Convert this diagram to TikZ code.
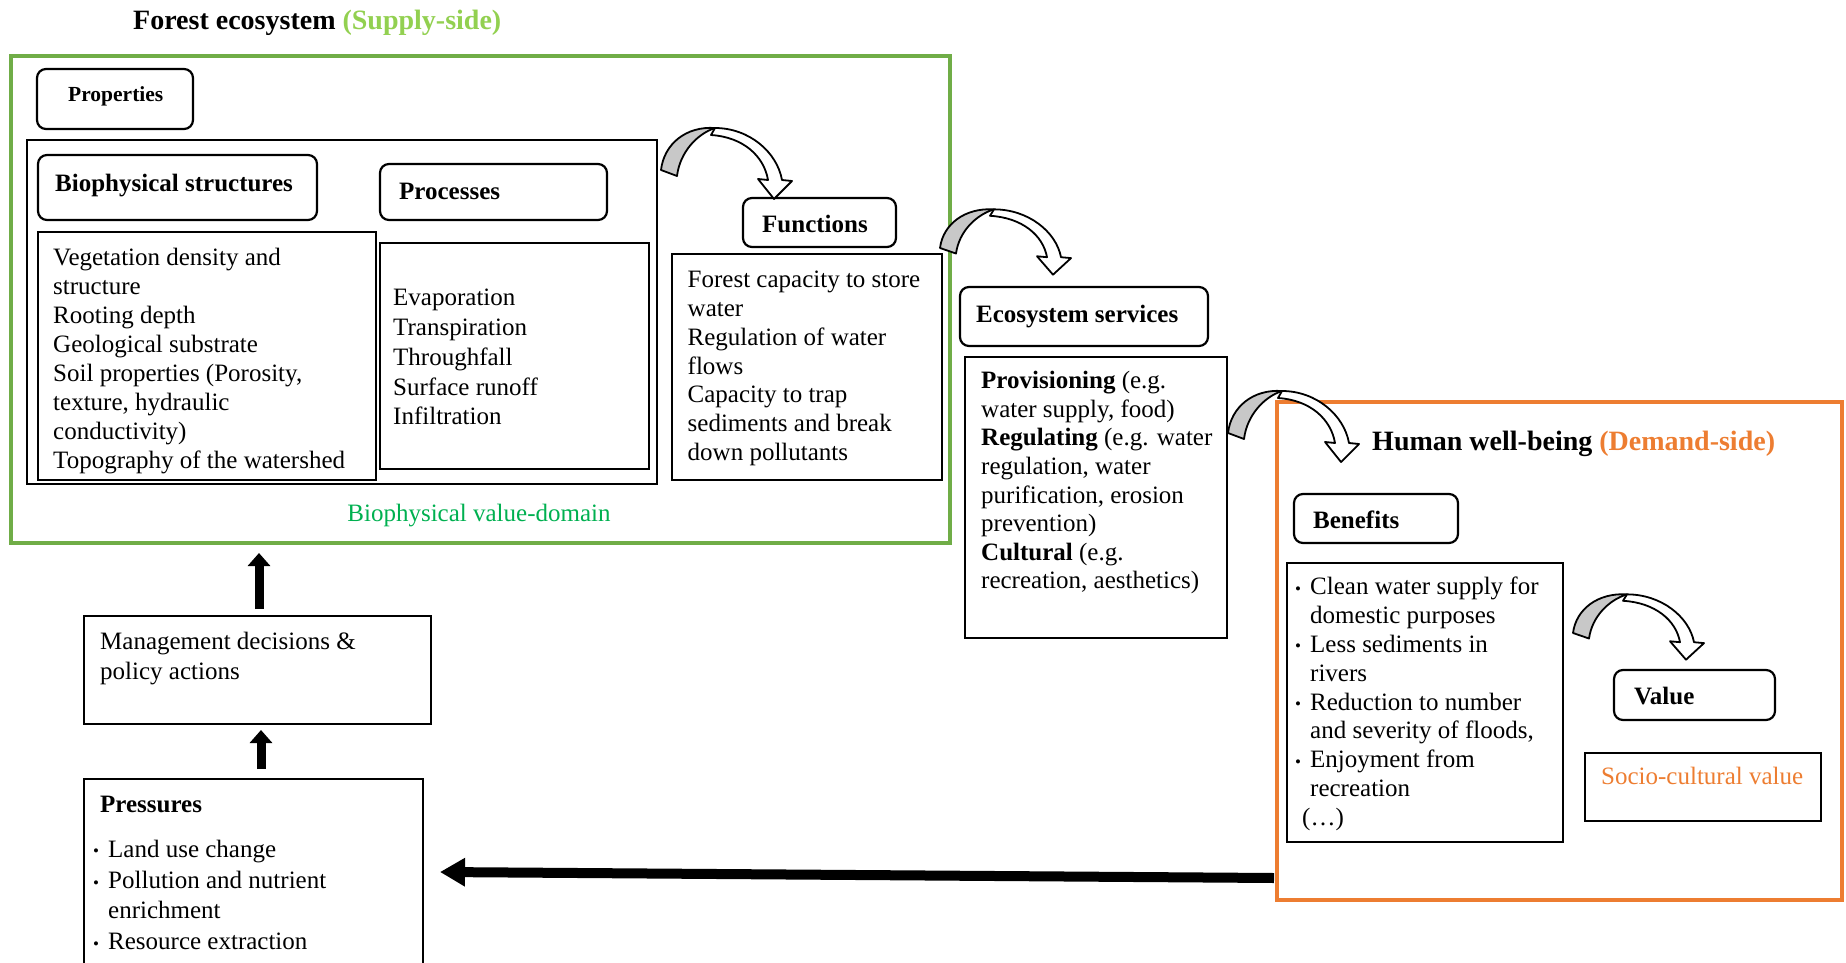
\documentclass[tikz,border=0pt]{standalone}
\usepackage{fontspec}
\setmainfont{Liberation Serif}
\usetikzlibrary{arrows.meta,calc}
\definecolor{grn}{HTML}{70AD47}
\definecolor{lgrn}{HTML}{92D050}
\definecolor{dgrn}{HTML}{00B050}
\definecolor{orn}{HTML}{ED7D31}
\definecolor{arrgray}{HTML}{C8C8C8}
\newcommand\bul{\makebox[15pt][l]{\raisebox{0.5pt}{\fontsize{17}{17}\selectfont\textbullet}}}
\newcommand\ind{\hspace*{15pt}}
\tikzset{
  box/.style={draw, line width=2.2pt, anchor=north west, inner sep=0pt, outer sep=0pt},
  rbox/.style={box, rounded corners=9pt},
  txt/.style={anchor=north west, inner sep=0pt, align=left, font=\fontsize{25}{29}\selectfont},
  lbl/.style={anchor=base west, inner sep=0pt, font=\fontsize{25}{29}\selectfont\bfseries},
  bigarr/.style={line width=10pt, -{Triangle[length=25pt,width=27pt]}},
  uparr/.style={line width=9pt, -{Triangle[length=13pt,width=22pt]}},
  curv/.pic={
    \filldraw[fill=arrgray, line width=1.8pt, line join=round]
      (0,0) .. controls (3,-26) and (25,-44) .. (54,-42)
      .. controls (36,-36) and (19,-18) .. (16,6) -- cycle;
    \filldraw[fill=white, line width=1.8pt, line join=round]
      (54,-42) .. controls (88,-42) and (116,-18) .. (121,10)
      -- (131,11) -- (113,29) -- (97,9) -- (107,10)
      .. controls (103,-14) and (82,-33) .. (50,-35) -- cycle;
  }
}
\begin{document}
\begin{tikzpicture}[x=1pt,y=-1pt]
\useasboundingbox (0,0) rectangle (1846,963);
\clip (0,0) rectangle (1846,963);

% frames
\node[box, draw=grn, line width=4pt, minimum width=939pt, minimum height=487pt] (grn) at (11,56) {};
\node[box, draw=orn, line width=4pt, minimum width=565pt, minimum height=498pt] (orn) at (1277,402) {};

% titles
\node[lbl, font=\fontsize{28}{32}\selectfont\bfseries] (t1) at (133,30) {Forest ecosystem \textcolor{lgrn}{(Supply-side)}};
\node[lbl, font=\fontsize{28}{32}\selectfont\bfseries] (t2) at (1372,450) {Human well-being \textcolor{orn}{(Demand-side)}};

% properties
\node[rbox, minimum width=156pt, minimum height=60pt] (props) at (37,69) {};
\node[lbl, font=\fontsize{21.5}{25}\selectfont\bfseries] (propst) at (68,102) {Properties};
\node[box, minimum width=630pt, minimum height=344pt] (big) at (27,140) {};

\node[rbox, minimum width=279pt, minimum height=65pt] (bsr) at (38,155) {};
\node[lbl] (bsrt) at (55,191.5) {Biophysical structures};
\node[box, minimum width=338pt, minimum height=248pt] (bsc) at (38,232) {};
\node[txt] (bsct) at (53,245) {\strut Vegetation density and\\structure\\Rooting depth\\Geological substrate\\Soil properties (Porosity,\\texture, hydraulic\\conductivity)\\Topography of the watershed};

\node[rbox, minimum width=227pt, minimum height=56pt] (prr) at (380,164) {};
\node[lbl] (prrt) at (399,199.5) {Processes};
\node[box, minimum width=269pt, minimum height=226pt] (prc) at (380,243) {};
\node[txt, font=\fontsize{25}{29.7}\selectfont] (prct) at (393,285) {\strut Evaporation\\Transpiration\\Throughfall\\Surface runoff\\Infiltration};

% functions
\node[rbox, minimum width=153pt, minimum height=49pt] (fnr) at (743,198) {};
\node[lbl] (fnrt) at (762,232.5) {Functions};
\node[box, minimum width=270pt, minimum height=226pt] (fnc) at (672,254) {};
\node[txt, font=\fontsize{25}{28.8}\selectfont] (fnct) at (687.5,267.3) {\strut Forest capacity to store\\water\\Regulation of water\\flows\\Capacity to trap\\sediments and break\\down pollutants};

\node[anchor=base, inner sep=0pt, font=\fontsize{25}{29}\selectfont, text=dgrn] (bvd) at (479,521.5) {Biophysical value-domain};

% ecosystem services
\node[rbox, minimum width=248pt, minimum height=59pt] (esr) at (960,287) {};
\node[lbl] (esrt) at (976,322.5) {Ecosystem services};
\node[box, minimum width=262pt, minimum height=281pt] (esc) at (965,357) {};
\node[txt, font=\fontsize{25}{28.6}\selectfont] (esct) at (981,368.5) {\strut\textbf{Provisioning} (e.g.\\water supply, food)\\\textbf{Regulating} (e.g. water\\regulation, water\\purification, erosion\\prevention)\\\textbf{Cultural} (e.g.\\recreation, aesthetics)};

% benefits
\node[rbox, minimum width=164pt, minimum height=49pt] (bnr) at (1294,494) {};
\node[lbl] (bnrt) at (1313,528.5) {Benefits};
\node[box, minimum width=276pt, minimum height=279pt] (bnc) at (1287,563) {};
\node[txt, font=\fontsize{25}{28.8}\selectfont] (bnct) at (1295,574.5) {\strut\bul Clean water supply for\\\ind domestic purposes\\\bul Less sediments in\\\ind rivers\\\bul Reduction to number\\\ind and severity of floods,\\\bul Enjoyment from\\\ind recreation\\\hspace*{7pt}(…)};

% value
\node[rbox, minimum width=161pt, minimum height=50pt] (var) at (1614,670) {};
\node[lbl] (vart) at (1634,704.5) {Value};
\node[box, minimum width=236pt, minimum height=68pt] (scc) at (1585,753) {};
\node[anchor=base west, inner sep=0pt, font=\fontsize{25}{29}\selectfont, text=orn] (scct) at (1601,784.5) {Socio-cultural value};

% management and pressures
\node[box, minimum width=347pt, minimum height=108pt] (mgt) at (84,616) {};
\node[txt, font=\fontsize{25}{30.6}\selectfont] (mgtt) at (100,627.5) {\strut Management decisions \&\\policy actions};
\node[box, minimum width=339pt, minimum height=220pt] (prs) at (84,779) {};
\node[lbl] (prst) at (100,812.5) {Pressures};
\node[txt, font=\fontsize{25}{29.5}\selectfont] (prsl) at (93,836.2) {\strut\bul Land use change\\[2pt]\bul Pollution and nutrient\\\ind enrichment\\[2pt]\bul Resource extraction};

% straight arrows
\draw[uparr] ($(mgt.north)+(1.5,-7)$) -- ($(mgt.north |- grn.south)+(1.5,10)$);
\draw[uparr] ($(prs.north)+(7.5,-10)$) -- ($(mgt.south)+(3.5,6)$);
\draw[bigarr] ($(orn.west |- 0,878)+(-3,0)$) -- ($(prs.east |- 0,872)+(17,0)$);

% curved arrows
\pic at (661,170) {curv};
\pic[yscale=0.92] at (940,248) {curv};
\pic at (1228,433) {curv};
\pic[yscale=0.92] at (1573,633) {curv};
\end{tikzpicture}
\end{document}
